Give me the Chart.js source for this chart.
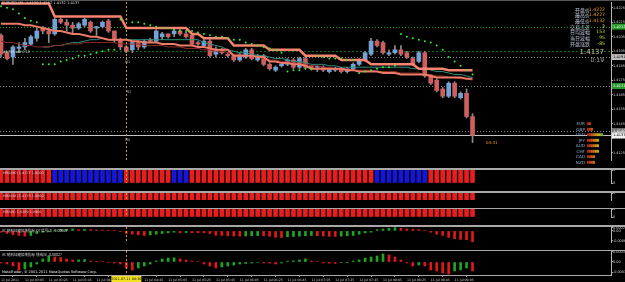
<!DOCTYPE html>
<html>
<head>
<meta charset="utf-8">
<title>EURUSD,M5</title>
<script src="https://cdn.jsdelivr.net/npm/chart.js@4.4.1/dist/chart.umd.min.js"></script>
<style>
  html, body { margin: 0; padding: 0; background: #000; }
  body { position: relative; width: 625px; height: 282px; overflow: hidden; font-family: "DejaVu Sans", "Liberation Sans", sans-serif; }
  canvas { position: absolute; left: 0; }
  .sep { position: absolute; left: 0; width: 625px; height: 1px; background: #a8a8a8; }
  .t { position: absolute; white-space: nowrap; line-height: 1; }
  .info { position: absolute; white-space: nowrap; font-size: 5px; line-height: 5.7px; text-align: right; }
</style>
</head>
<body>
<div class="sep" style="top:0;height:1px;background:#555"></div>
<canvas id="main" width="625" height="166" style="top:2px"></canvas>
<div class="sep" style="top:168px;height:2px"></div>
<canvas id="hma1" width="625" height="21" style="top:170px"></canvas>
<div class="sep" style="top:191px;height:2px"></div>
<canvas id="hma2" width="625" height="15" style="top:193px"></canvas>
<div class="sep" style="top:208px"></div>
<canvas id="hma3" width="625" height="16" style="top:209px"></canvas>
<div class="sep" style="top:225px;height:2px"></div>
<canvas id="ac1" width="625" height="23" style="top:227px"></canvas>
<div class="sep" style="top:250px"></div>
<canvas id="ac2" width="625" height="32" style="top:251px"></canvas>
<div class="sep" style="top:275px;width:611px"></div>
<canvas id="ccy" width="26" height="44" style="left:587px;top:120.5px"></canvas>

<!-- main window texts -->
<div class="t" style="left:2px;top:2px;font-size:3.6px;color:#d8d8d8">EURUSD,M5&nbsp; 1.4150 1.4152 1.4132 1.4137</div>
<div class="t" style="left:3px;top:50.5px;font-size:3.4px;color:#e0e0e0">#1756 sell 0.10</div>
<div class="t" style="left:125px;top:60.5px;font-size:3.5px;color:#b0b0b0">M1</div>
<div class="t" style="left:127px;top:91px;font-size:3.5px;color:#b0b0b0">S2</div>
<div class="t" style="left:125px;top:139px;font-size:3.5px;color:#b0b0b0">M0</div>
<div class="t" style="left:486px;top:140.5px;font-size:4px;color:#e89a2e">04:41</div>

<div class="info" style="right:35px;top:6.5px;color:#b9c3d6;font-family:'Noto Sans CJK SC',sans-serif">开盘价<br>最高价<br>最低价<br>交易点差<br>日均波幅<br>当日波幅<br>开盘涨跌</div>
<div class="info" style="right:20px;top:6.5px;font-family:'DejaVu Sans',sans-serif;font-size:4.6px">
  <span style="color:#eb9b25">1.4222</span><br><span style="color:#eb9b25">1.4227</span><br><span style="color:#eb9b25">1.4132</span><br><span style="color:#f2f0d0">2</span><br><span style="color:#b4dc3c">153</span><br><span style="color:#b4dc3c">95</span><br><span style="color:#c8dc46">-85</span>
</div>
<div class="t" style="right:21px;top:48.5px;font-size:7px;color:#c9c4a8">1.4137</div>
<div class="t" style="right:21px;top:57px;font-size:6px;color:#a8a8a8">0:19</div>
<div class="info" style="right:40px;top:121px;font-size:4.2px;line-height:5.5px;color:#8fb0d6">EUR<br>GBP<br>USD<br>JPY<br>AUD<br>CHF<br>CAD<br>NZD</div>

<!-- sub window texts -->
<div class="t" style="left:3px;top:172px;font-size:3.4px;color:#d8d8d8">HMA(80) 1.4177 1.0000</div>
<div class="t" style="left:3px;top:194.5px;font-size:3.4px;color:#d8d8d8">HMA(34) 1.4175 1.0000</div>
<div class="t" style="left:3px;top:210.5px;font-size:3.4px;color:#d8d8d8">HMA(8) 1.4159 1.0000</div>
<div class="t" style="left:2px;top:229px;font-size:3.5px;color:#d8d8d8;font-family:'Noto Sans CJK SC',sans-serif">AC 随机加速振荡指标 Q7 信号(3) -0.00068</div>
<div class="t" style="left:2px;top:253px;font-size:3.5px;color:#d8d8d8;font-family:'Noto Sans CJK SC',sans-serif">AC 随机加速振荡指标 快线(5) -0.00027</div>
<div class="t" style="left:2px;top:271px;font-size:3.5px;color:#e8e8e8">MetaTrader, © 2001-2011 MetaQuotes Software Corp.</div>

<script>
// ─── bar axis / scale bounds ───
const X_MIN = -0.17, X_MAX = 102.2;
const PRICE_MIN = 1.4120, PRICE_MAX = 1.4229;
const PRICE_TICKS = [1.4225, 1.4215, 1.4205, 1.4195, 1.4185, 1.4175, 1.4165, 1.4155, 1.4145, 1.4135, 1.4125];

// ─── candles (EURUSD M5) ───
const OPEN = [1.4206,1.4194,1.4191,1.4197,1.4198,1.4200,1.4204,1.4211,1.4209,1.4207,
  1.4217,1.4215,1.4213,1.4211,1.4213,1.4215,1.4211,1.4212,1.4216,1.4209,
  1.4203,1.4198,1.4196,1.4201,1.4198,1.4203,1.4202,1.4205,1.4207,1.4207,
  1.4209,1.4207,1.4206,1.4201,1.4199,1.4202,1.4193,1.4196,1.4193,1.4192,
  1.4189,1.4191,1.4196,1.4189,1.4192,1.4186,1.4182,1.4185,1.4186,1.4189,
  1.4184,1.4190,1.4185,1.4184,1.4184,1.4181,1.4182,1.4183,1.4181,1.4183,
  1.4186,1.4189,1.4193,1.4202,1.4201,1.4193,1.4194,1.4196,1.4194,1.4190,
  1.4188,1.4194,1.4178,1.4175,1.4169,1.4164,1.4173,1.4163,1.4166,1.4150];
const HIGH = [1.4207,1.4195,1.4199,1.4201,1.4204,1.4206,1.4211,1.4212,1.4211,1.4218,
  1.4218,1.4217,1.4215,1.4215,1.4218,1.4216,1.4212,1.4216,1.4217,1.4209,
  1.4204,1.4199,1.4202,1.4202,1.4203,1.4204,1.4210,1.4208,1.4207,1.4210,
  1.4210,1.4208,1.4207,1.4202,1.4203,1.4203,1.4198,1.4197,1.4194,1.4193,
  1.4194,1.4197,1.4197,1.4193,1.4193,1.4187,1.4185,1.4187,1.4190,1.4190,
  1.4191,1.4191,1.4185,1.4185,1.4185,1.4183,1.4184,1.4184,1.4184,1.4187,
  1.4190,1.4195,1.4204,1.4203,1.4202,1.4196,1.4199,1.4199,1.4195,1.4191,
  1.4195,1.4195,1.4179,1.4176,1.4170,1.4174,1.4174,1.4167,1.4169,1.4152];
const LOW = [1.4191,1.4189,1.4186,1.4194,1.4196,1.4199,1.4202,1.4207,1.4201,1.4206,
  1.4214,1.4209,1.4207,1.4210,1.4212,1.4208,1.4206,1.4211,1.4208,1.4201,
  1.4196,1.4194,1.4194,1.4196,1.4197,1.4201,1.4201,1.4203,1.4204,1.4205,
  1.4206,1.4204,1.4199,1.4199,1.4198,1.4191,1.4191,1.4193,1.4191,1.4188,
  1.4188,1.4190,1.4189,1.4188,1.4185,1.4182,1.4181,1.4184,1.4185,1.4183,
  1.4183,1.4183,1.4182,1.4181,1.4181,1.4180,1.4181,1.4180,1.4180,1.4182,
  1.4185,1.4188,1.4192,1.4198,1.4193,1.4192,1.4193,1.4192,1.4190,1.4185,
  1.4187,1.4177,1.4172,1.4167,1.4163,1.4163,1.4163,1.4162,1.4149,1.4132];
const CLOSE = [1.4193,1.4190,1.4198,1.4198,1.4201,1.4205,1.4209,1.4209,1.4207,1.4217,
  1.4215,1.4213,1.4211,1.4214,1.4217,1.4209,1.4212,1.4215,1.4209,1.4203,
  1.4198,1.4195,1.4201,1.4198,1.4202,1.4202,1.4209,1.4207,1.4205,1.4209,
  1.4207,1.4205,1.4200,1.4200,1.4202,1.4192,1.4196,1.4194,1.4192,1.4189,
  1.4193,1.4196,1.4190,1.4192,1.4186,1.4183,1.4184,1.4186,1.4189,1.4184,
  1.4190,1.4184,1.4183,1.4184,1.4182,1.4183,1.4183,1.4181,1.4183,1.4186,
  1.4189,1.4194,1.4202,1.4199,1.4194,1.4194,1.4196,1.4193,1.4191,1.4186,
  1.4194,1.4178,1.4173,1.4168,1.4164,1.4173,1.4164,1.4166,1.4150,1.4137];

// ─── overlays ───
const BAND_UP = [1.4228,1.4228,1.4228,1.4228,1.4228,1.4228,1.4228,1.4228,1.4228,
  1.4219,1.4219,1.4219,1.4219,1.4219,1.4219,1.4219,1.4219,1.4219,1.4219,1.4219,1.4219,
  1.4211,1.4211,1.4211,1.4211,1.4211,1.4211,1.4211,1.4211,1.4211,1.4211,1.4211,
  1.4207,1.4207,1.4204,1.4204,1.4204,1.4204,1.4204,
  1.4199,1.4199,1.4199,1.4199,1.4199,1.4199,
  1.4196,1.4196,1.4196,1.4196,1.4196,1.4196,
  1.4192,1.4192,1.4192,1.4192,1.4192,1.4192,
  1.4189,1.4189,1.4189,1.4189,1.4189,
  1.4186,1.4186,1.4186,1.4186,1.4186,1.4186,1.4186,1.4186,
  1.4183,1.4183,1.4183,1.4183,1.4183,
  1.4182,1.4182,1.4182,1.4182,1.4182];
const BAND_LOW = [1.4214,1.4214,1.4214,1.4214,1.4213,1.4213,1.4212,1.4211,1.4210,1.4209,
  1.4209,1.4208,1.4207,1.4207,1.4206,1.4205,1.4205,1.4204,1.4203,1.4203,
  1.4203,1.4203,1.4202,1.4202,1.4201,1.4201,1.4201,1.4200,1.4200,1.4200,
  1.4199,1.4199,1.4199,1.4198,1.4198,1.4197,1.4196,1.4196,1.4196,1.4192,
  1.4192,1.4192,1.4192,1.4191,1.4191,1.4188,1.4188,1.4187,1.4187,1.4186,
  1.4186,1.4185,1.4183,1.4183,1.4183,1.4183,1.4183,1.4183,1.4182,1.4182,
  1.4181,1.4181,1.4181,1.4181,1.4180,1.4180,1.4180,1.4179,1.4179,1.4179,
  1.4179,1.4179,1.4178,1.4177,1.4177,1.4177,1.4177,1.4177,1.4176,1.4176];
const MA_SLOW = [1.4202,1.4201,1.4201,1.4200,1.4199,1.4199,1.4198,1.4198,1.4198,1.4199,
  1.4199,1.4200,1.4200,1.4200,1.4201,1.4201,1.4201,1.4201,1.4201,1.4201,
  1.4200,1.4200,1.4200,1.4200,1.4199,1.4199,1.4199,1.4199,1.4198,1.4198,
  1.4198,1.4197,1.4197,1.4197,1.4196,1.4196,1.4195,1.4195,1.4194,1.4193,
  1.4193,1.4192,1.4192,1.4191,1.4190,1.4189,1.4189,1.4188,1.4188,1.4187,
  1.4187,1.4186,1.4185,1.4185,1.4184,1.4184,1.4183,1.4183,1.4183,1.4182,
  1.4182,1.4182,1.4182,1.4181,1.4181,1.4181,1.4181,1.4180,1.4180,1.4180,
  1.4180,1.4179,1.4179,1.4178,1.4178,1.4177,1.4177,1.4176,1.4176,1.4175];
const MA_FAST = [null,null,null,null,null,null,null,
  1.4198,1.4198,1.4199,1.4199,1.4200,1.4201,1.4201,1.4202,1.4203,1.4203,1.4204,
  1.4203,1.4203,1.4203,1.4203,1.4203,1.4203,1.4203,1.4203,1.4203,
  1.4203,1.4203,1.4203,1.4203,1.4203,1.4203,1.4203,
  1.4201,1.4200,1.4199,1.4198,1.4196,
  1.4195,1.4194,1.4194,1.4193,1.4192,1.4192,
  1.4191,1.4190,1.4190,1.4189,1.4188,1.4188,1.4187,
  1.4186,1.4186,1.4186,1.4185,1.4185,1.4184,1.4184,
  1.4184,1.4184,1.4184,1.4184,1.4184,1.4184,1.4184,1.4184,
  1.4184,1.4184,1.4183,1.4183,1.4183,1.4182,
  1.4181,1.4181,1.4180,1.4179,1.4179,1.4178,1.4177];
const SAR = [1.4226,1.4225,1.4224,1.4221,1.4218,1.4216,1.4215,
  1.4186,1.4186,1.4186,1.4188,1.4189,1.4190,1.4192,1.4192,1.4193,1.4194,1.4195,1.4196,1.4196,
  1.4217,1.4217,1.4215,1.4215,1.4214,1.4213,1.4212,1.4211,1.4211,1.4210,1.4209,1.4209,1.4209,1.4208,
  1.4207,1.4206,1.4205,1.4205,1.4204,1.4203,1.4203,1.4201,1.4200,1.4199,1.4198,1.4197,1.4196,1.4194,
  1.4181,1.4182,1.4182,1.4183,1.4183,
  1.4192,1.4191,1.4190,1.4190,1.4190,1.4189,1.4189,
  1.4180,1.4181,1.4182,1.4183,1.4184,1.4184,1.4185,
  1.4207,1.4205,1.4204,1.4203,1.4202,1.4201,1.4199,1.4196,1.4191,1.4188,1.4185,1.4182,1.4179];

// horizontal objects: green line, order, pivots, bid
const LEVEL_PRICES = [1.4212, 1.4195, 1.4191, 1.4171, 1.4140, 1.4137];
const LEVEL_STYLES = [
  { color: '#22a022', dash: [1, 2], box: '#2a9a2a', text: '#eaffea' },
  { color: '#0e6e0e', dash: [2, 2], box: null },
  { color: '#8a8a8a', dash: [1, 2], box: '#bdbdbd', text: '#000' },
  { color: '#8a8a8a', dash: [1, 2], box: '#2a9a2a', text: '#eaffea' },
  { color: '#8a8a8a', dash: [1, 2], box: '#6e6e6e', text: '#fff' },
  { color: '#c4c4c4', dash: [], box: '#f0f0f0', text: '#000' }
];

// ─── sub windows ───
const HMA80_UP = [0,0,0,0,0,0,0,0,0,1,1,1,1,1,1,1,1,1,1,1,1,0,0,0,0,0,0,0,0,1,1,1,
  0,0,0,0,0,0,0,0,0,0,0,0,0,0,0,0,0,0,0,0,0,0,0,0,0,0,0,0,0,0,0,
  1,1,1,1,1,1,1,1,1,0,0,0,0,0,0,0,0];
const HMA34_UP = [0,0,0,0,0,0,0,0,0,0,0,0,0,0,0,0,0,0,0,0,0,0,0,0,0,0,0,0,0,0,0,0,0,0,0,0,0,0,0,0,
  0,0,0,0,0,0,0,0,0,0,0,0,0,0,0,0,0,0,0,0,0,0,0,0,0,0,0,0,0,0,0,0,0,0,0,0,0,0,0,0];
const HMA8_UP = [0,0,0,0,0,0,0,0,0,0,0,0,0,0,0,0,0,0,0,0,0,0,0,0,0,0,0,0,0,0,0,0,0,0,0,0,0,0,0,0,
  0,0,0,0,0,0,0,0,0,0,0,0,0,0,0,0,0,0,0,0,0,0,0,0,0,0,0,0,0,0,0,0,0,0,0,0,0,0,0,0];

const AC1 = [-0.00008,-0.00016,-0.00024,-0.00028,-0.00032,
  -0.00028,-0.00016,-0.00008,-0.00004,0.00004,0.00008,0.0001,0.00012,
  0.00008,0.0001,0.00008,0.00006,0.000048,0.00004,0.000024,
  -0.00004,-0.00016,-0.0002,-0.00024,-0.00028,
  -0.00024,-0.0002,-0.00016,-0.00012,-0.00008,
  -0.00012,-0.0001,-0.000112,-0.000116,-0.00012,-0.00016,-0.00026,-0.00028,-0.0003,-0.000312,-0.00032,
  -0.000312,-0.0003,-0.000288,
  -0.000304,-0.000328,-0.000392,-0.0004,
  -0.00036,-0.00034,-0.00032,-0.0003,-0.00028,
  -0.000296,-0.000312,-0.000328,-0.000336,
  -0.00032,-0.0003,-0.00028,-0.0002,-0.00012,-0.00008,0.00008,0.00012,0.00016,0.0002,
  0.00016,0.00012,0.0001,0.00008,0.00004,-0.00008,-0.0002,-0.00028,-0.0004,-0.00048,-0.00052,-0.00054,-0.00068];
const AC2 = [-0.00003,-0.00006,-0.00012,-0.00024,-0.00021,-0.00015,-0.00006,0.00009,0.00018,0.00015,
  0.000135,0.00009,0.00006,0.000066,0.000072,0.00003,0.000024,0.000015,-0.000015,-0.00003,
  -0.00006,-0.00018,-0.00024,-0.00018,-0.00012,-0.00006,0.00003,0.00009,0.00012,0.000126,
  0.00009,0.00006,0.00003,0.000015,-0.00006,-0.00012,-0.00018,-0.00015,-0.00012,-0.00009,
  -0.00006,-0.000045,-0.00003,-0.000015,-0.00003,-0.000036,-0.00006,-0.00003,0.000024,0.000036,
  0.00006,0.00009,0.00003,0.000015,-0.00003,-0.000036,-0.000042,-0.000018,-0.000012,0.00003,
  0.00006,0.00012,0.00015,0.00018,0.00024,0.00021,0.00015,0.00006,-0.00003,-0.00012,
  -0.00009,-0.00012,-0.00024,-0.00027,-0.00033,-0.00036,-0.00027,-0.00024,-0.00018,-0.00027];
const AC1_MIN = -0.00068, AC1_MAX = 0.00024, AC1_TICKS = [0.0002, 0, -0.0006];
const AC2_MIN = -0.00039, AC2_MAX = 0.00033, AC2_TICKS = [0.0003, 0, -0.0003];

// ─── time axis ───
const TIME_TICKS = [0,4,8,12,16,20,24,28,32,36,40,44,48,52,56,60,64,68,72,76];
const TIME_LABELS = ['11 Jul 2011','11 Jul 03:05','11 Jul 03:25','11 Jul 03:45','11 Jul 04:05',
  '11 Jul 04:25','11 Jul 04:45','11 Jul 05:05','11 Jul 05:25','11 Jul 05:45','11 Jul 06:05',
  '11 Jul 06:25','11 Jul 06:45','11 Jul 07:05','11 Jul 07:25','11 Jul 07:45','11 Jul 08:05',
  '11 Jul 08:25','11 Jul 08:45','11 Jul 09:05'];
const MARK_INDEX = 21;
const MARK_LABEL = '2011.07.11 04:30';

// ─── currency strength ───
const CURRENCIES = ['EUR','GBP','USD','JPY','AUD','CHF','CAD','NZD'];
const STRENGTH = [2, 3, 8, 6, 6, 6, 4, 4];
const SEGMENT_COLORS = ['#c0281c','#d2461e','#dc6420','#e28222','#e6a024','#dcc028','#b8cc2c','#8cc832'];

const BULL = '#74a2d8', BEAR = '#cd5f5f', WICK = '#8c8c8c';
const IDX = OPEN.map((_, i) => i);

Chart.defaults.font.family = "'DejaVu Sans', sans-serif";

function xAxis(show) {
    return {
        type: 'linear', min: X_MIN, max: X_MAX, display: show, offset: false,
        afterBuildTicks: a => { a.ticks = TIME_TICKS.map(v => ({ value: v })); },
        afterFit: a => { a.height = 8; a.paddingLeft = 0; a.paddingRight = 0; },
        grid: { drawOnChartArea: false, tickLength: 2, color: '#9a9a9a' },
        border: { display: false },
        ticks: {
            autoSkip: false, maxRotation: 0, minRotation: 0, align: 'start', padding: 1,
            color: '#cfcfcf', font: { size: 3.2 },
            callback: (v, i) => TIME_LABELS[i]
        }
    };
}

function yAxis(min, max, ticks, fmt) {
    return {
        position: 'right', min, max,
        afterBuildTicks: a => { a.ticks = ticks.map(v => ({ value: v })); },
        afterFit: a => { a.width = 14; a.paddingTop = 0; a.paddingBottom = 0; },
        grid: { drawOnChartArea: false, tickLength: 2, color: '#a0a0a0' },
        border: { display: true, color: '#b4b4b4', width: 1 },
        ticks: { padding: 0, color: '#d4d4d4', font: { size: 3.4 }, callback: fmt }
    };
}

function baseOptions(y, showX) {
    return {
        responsive: false,
        devicePixelRatio: 1,
        animation: false,
        events: [],
        layout: { padding: 0, autoPadding: false },
        plugins: { legend: { display: false }, tooltip: { enabled: false } },
        scales: { x: xAxis(showX), y }
    };
}

// dashed vertical line through every window
const markLine = {
    id: 'markLine',
    afterDatasetsDraw(chart) {
        const { ctx, chartArea } = chart;
        const x = Math.round(chart.scales.x.getPixelForValue(MARK_INDEX)) + 0.5;
        ctx.save();
        ctx.strokeStyle = '#c89b45';
        ctx.lineWidth = 1;
        ctx.setLineDash([2, 2]);
        ctx.beginPath();
        ctx.moveTo(x, chartArea.top);
        ctx.lineTo(x, chartArea.bottom);
        ctx.stroke();
        ctx.restore();
    }
};

const levelLines = {
    id: 'levelLines',
    beforeDatasetsDraw(chart) {
        const { ctx, chartArea } = chart;
        const ys = chart.scales.y;
        ctx.save();
        LEVEL_PRICES.forEach((p, k) => {
            const st = LEVEL_STYLES[k];
            const py = Math.round(ys.getPixelForValue(p)) + 0.5;
            ctx.strokeStyle = st.color;
            ctx.lineWidth = 1;
            ctx.setLineDash(st.dash);
            ctx.beginPath();
            ctx.moveTo(chartArea.left, py);
            ctx.lineTo(chartArea.right, py);
            ctx.stroke();
        });
        ctx.restore();
    },
    afterDraw(chart) {
        const { ctx, chartArea } = chart;
        const ys = chart.scales.y;
        ctx.save();
        ctx.font = "3.6px 'DejaVu Sans'";
        ctx.textBaseline = 'middle';
        LEVEL_PRICES.forEach((p, k) => {
            const st = LEVEL_STYLES[k];
            if (!st.box) return;
            const py = ys.getPixelForValue(p);
            ctx.fillStyle = st.box;
            ctx.fillRect(chartArea.right + 1, py - 3, 14, 6);
            ctx.fillStyle = st.text;
            ctx.fillText(p.toFixed(4), chartArea.right + 2, py);
        });
        ctx.restore();
    }
};

const timeBox = {
    id: 'timeBox',
    afterDraw(chart) {
        const { ctx, chartArea } = chart;
        const x = chart.scales.x.getPixelForValue(MARK_INDEX);
        ctx.save();
        ctx.fillStyle = '#f2e21e';
        ctx.fillRect(x - 15, chartArea.bottom + 1, 30, 7);
        ctx.fillStyle = '#000';
        ctx.font = "3.4px 'DejaVu Sans'";
        ctx.textAlign = 'center';
        ctx.textBaseline = 'middle';
        ctx.fillText(MARK_LABEL, x, chartArea.bottom + 4.5);
        ctx.restore();
    }
};

// ─── main price window ───
new Chart(document.getElementById('main'), {
    type: 'bar',
    data: {
        datasets: [{
            data: IDX.map(i => ({ x: i, y: [LOW[i], HIGH[i]] })),
            backgroundColor: WICK,
            barThickness: 1,
            grouped: false,
            order: 5
        }, {
            data: IDX.map(i => ({ x: i, y: [OPEN[i], CLOSE[i]] })),
            backgroundColor: IDX.map(i => CLOSE[i] >= OPEN[i] ? BULL : BEAR),
            barThickness: 4,
            minBarLength: 1,
            grouped: false,
            order: 4
        }, {
            type: 'line',
            data: IDX.map(i => ({ x: i, y: MA_SLOW[i] })),
            borderColor: '#8e2c24', borderWidth: 1, pointRadius: 0, order: 3
        }, {
            type: 'line',
            data: IDX.map(i => ({ x: i, y: MA_FAST[i] })),
            borderColor: '#2f8f80', borderWidth: 1, pointRadius: 0, order: 3
        }, {
            type: 'line',
            data: IDX.map(i => ({ x: i, y: BAND_LOW[i] })),
            borderColor: '#ee7a68', borderWidth: 2, pointRadius: 0, order: 2
        }, {
            type: 'line',
            data: IDX.map(i => ({ x: i, y: BAND_UP[i] })),
            borderColor: '#f8836f', borderWidth: 2.5, pointRadius: 0, order: 1
        }, {
            type: 'line',
            data: IDX.map(i => ({ x: i, y: SAR[i] })),
            showLine: false,
            pointRadius: 1,
            pointBorderWidth: 0,
            pointBackgroundColor: '#33ee33',
            order: 0
        }]
    },
    options: baseOptions(yAxis(PRICE_MIN, PRICE_MAX, PRICE_TICKS, v => v.toFixed(4)), false),
    plugins: [levelLines, markLine]
});

// ─── HMA trend windows ───
function hmaChart(id, up) {
    new Chart(document.getElementById(id), {
        type: 'bar',
        data: {
            datasets: [{
                data: IDX.map(i => ({ x: i, y: up[i] ? 1 : null })),
                backgroundColor: '#1616d8', barThickness: 4, grouped: false
            }, {
                data: IDX.map(i => ({ x: i, y: up[i] ? null : 1 })),
                backgroundColor: '#e81e1e', barThickness: 4, grouped: false
            }]
        },
        options: baseOptions(yAxis(0, 1, [1, 0], v => String(v)), false),
        plugins: [markLine]
    });
}
hmaChart('hma1', HMA80_UP);
hmaChart('hma2', HMA34_UP);
hmaChart('hma3', HMA8_UP);

// ─── AC histogram windows ───
function acChart(id, vals, min, max, ticks, showTime) {
    new Chart(document.getElementById(id), {
        type: 'bar',
        data: {
            datasets: [{
                data: IDX.map(i => ({ x: i, y: vals[i] })),
                backgroundColor: IDX.map(i => (i > 0 && vals[i] > vals[i - 1]) ? '#1fa51f' : '#e01818'),
                barThickness: 2,
                grouped: false
            }]
        },
        options: baseOptions(yAxis(min, max, ticks, v => v === 0 ? '0.00' : v.toFixed(4)), showTime),
        plugins: showTime ? [markLine, timeBox] : [markLine]
    });
}
acChart('ac1', AC1, AC1_MIN, AC1_MAX, AC1_TICKS, false);
acChart('ac2', AC2, AC2_MIN, AC2_MAX, AC2_TICKS, true);

// ─── currency strength meter ───
new Chart(document.getElementById('ccy'), {
    type: 'bar',
    data: {
        labels: CURRENCIES,
        datasets: SEGMENT_COLORS.map((c, k) => ({
            data: STRENGTH.map(s => s > k ? 1 : null),
            backgroundColor: c,
            borderColor: '#000',
            borderWidth: { right: 0.5 },
            borderSkipped: false,
            barThickness: 3
        }))
    },
    options: {
        indexAxis: 'y',
        responsive: false,
        devicePixelRatio: 1,
        animation: false,
        events: [],
        layout: { padding: 0, autoPadding: false },
        plugins: { legend: { display: false }, tooltip: { enabled: false } },
        scales: {
            x: { stacked: true, display: false, min: 0, max: 13 },
            y: { stacked: true, display: false }
        }
    }
});
</script>
</body>
</html>
